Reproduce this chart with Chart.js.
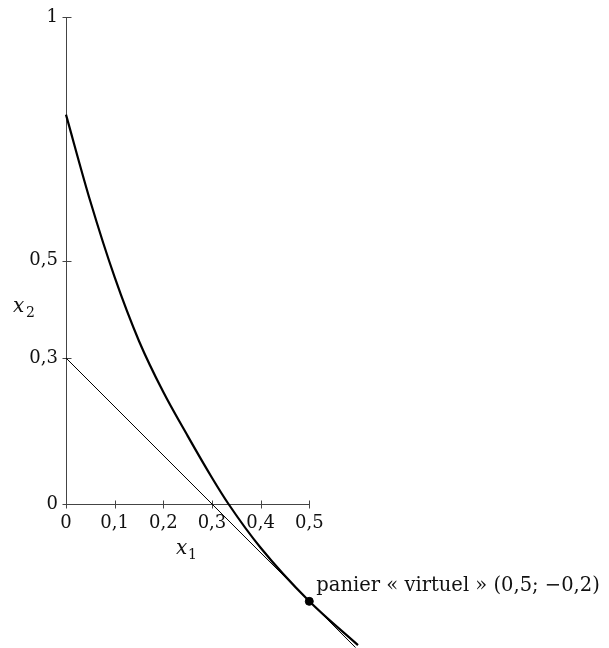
<!DOCTYPE html>
<html>
<head>
<meta charset="utf-8">
<script src="https://cdn.jsdelivr.net/npm/chart.js@4.4.0/dist/chart.umd.min.js"></script>
<style>
  html, body { margin: 0; padding: 0; background: #fff; }
  #graph { display: block; }
</style>
</head>
<body>
<canvas id="graph" width="609" height="648"></canvas>
<script>
// axes
const xTicks = [0, 0.1, 0.2, 0.3, 0.4, 0.5];
const xTickLabels = ['0', '0,1', '0,2', '0,3', '0,4', '0,5'];
const yTicks = [0, 0.3, 0.5, 1];
const yTickLabels = ['0', '0,3', '0,5', '1'];

// courbe
const curveX = [0, 0.05, 0.1, 0.15, 0.2, 0.25, 0.3, 0.334, 0.4, 0.5, 0.6];
const curveY = [0.8, 0.622, 0.466, 0.335, 0.23, 0.14, 0.054, 0, -0.09, -0.2, -0.29];

// droite x1 + x2 = 0,3
const lineX = [0, 0.595];
const lineY = [0.3, -0.295];

// panier virtuel
const pointX = [0.5];
const pointY = [-0.2];
const pointLabel = 'panier « virtuel » (0,5; −0,2)';

const toXY = (xs, ys) => xs.map((x, i) => ({ x: x, y: ys[i] }));

const serif = "'DejaVu Serif', serif";

const axesPlugin = {
    id: 'axes',
    beforeDatasetsDraw(chart) {
        const ctx = chart.ctx;
        const sx = chart.scales.x, sy = chart.scales.y;
        const x0 = Math.round(sx.getPixelForValue(0)) + 0.5;
        const y0 = Math.round(sy.getPixelForValue(0)) + 0.5;
        ctx.save();
        ctx.strokeStyle = '#444';
        ctx.lineWidth = 1;
        ctx.beginPath();
        ctx.moveTo(x0, y0);
        ctx.lineTo(x0, sy.getPixelForValue(yTicks[yTicks.length - 1]));
        ctx.moveTo(x0, y0);
        ctx.lineTo(sx.getPixelForValue(xTicks[xTicks.length - 1]), y0);
        // graduations
        yTicks.forEach(v => {
            const py = Math.round(sy.getPixelForValue(v)) + 0.5;
            ctx.moveTo(x0 - 4, py);
            ctx.lineTo(x0 + 5, py);
        });
        xTicks.forEach(v => {
            const px = Math.round(sx.getPixelForValue(v)) + 0.5;
            ctx.moveTo(px, y0 - 4);
            ctx.lineTo(px, y0 + 4);
        });
        ctx.stroke();
        ctx.restore();
    },
    afterDatasetsDraw(chart) {
        const ctx = chart.ctx;
        const sx = chart.scales.x, sy = chart.scales.y;
        const x0 = sx.getPixelForValue(0), y0 = sy.getPixelForValue(0);
        ctx.save();
        ctx.fillStyle = '#111';
        ctx.font = '18px ' + serif;
        ctx.textBaseline = 'middle';
        ctx.textAlign = 'right';
        yTicks.forEach((v, i) => {
            ctx.fillText(yTickLabels[i], x0 - 8, sy.getPixelForValue(v));
        });
        ctx.textAlign = 'center';
        xTicks.forEach((v, i) => {
            ctx.fillText(xTickLabels[i], sx.getPixelForValue(v), y0 + 19);
        });

        // titres des axes
        ctx.textAlign = 'left';
        ctx.font = 'italic 20px ' + serif;
        ctx.fillText('x', 176, 549);
        ctx.fillText('x', 13, 307);
        ctx.font = '14px ' + serif;
        ctx.fillText('1', 188, 555);
        ctx.fillText('2', 26, 313);

        // étiquette du point
        ctx.font = '19.5px ' + serif;
        ctx.fillText(pointLabel, sx.getPixelForValue(pointX[0]) + 7, sy.getPixelForValue(pointY[0]) - 15);
        ctx.restore();
    }
};

new Chart(document.getElementById('graph'), {
    type: 'scatter',
    data: {
        datasets: [
            {
                data: toXY(lineX, lineY),
                showLine: true,
                borderColor: '#000',
                borderWidth: 1,
                pointRadius: 0,
                clip: false
            },
            {
                data: toXY(curveX, curveY),
                showLine: true,
                borderColor: '#000',
                borderWidth: 2.2,
                cubicInterpolationMode: 'monotone',
                pointRadius: 0,
                clip: false
            },
            {
                data: toXY(pointX, pointY),
                showLine: false,
                backgroundColor: '#000',
                borderColor: '#000',
                pointRadius: 4,
                clip: false
            }
        ]
    },
    options: {
        responsive: false,
        animation: false,
        devicePixelRatio: 1,
        layout: { padding: 0, autoPadding: false },
        plugins: { legend: { display: false }, tooltip: { enabled: false } },
        scales: {
            x: { type: 'linear', min: -0.1356, max: 1.1159, display: false },
            y: { type: 'linear', min: -0.2959, max: 1.0356, display: false }
        }
    },
    plugins: [axesPlugin]
});
</script>
</body>
</html>
